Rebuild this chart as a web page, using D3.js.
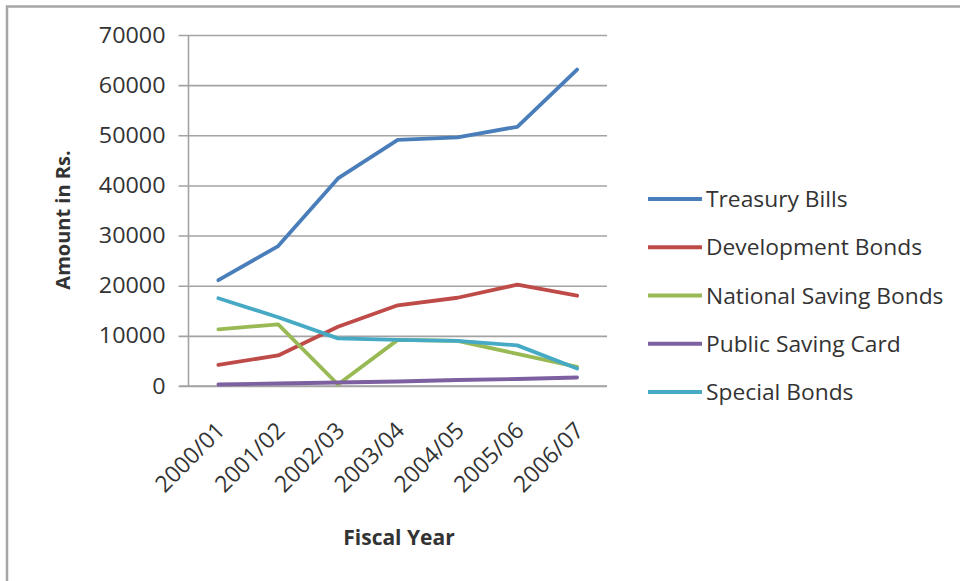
<!DOCTYPE html>
<html>
<head>
<meta charset="utf-8">
<script src="https://cdn.jsdelivr.net/npm/d3@7"></script>
<style>
  html, body { margin: 0; padding: 0; background: #ffffff; }
  svg { display: block; }
  text { font-family: "Open Sans", "Noto Sans", sans-serif; fill: #333333; }
</style>
</head>
<body>
<svg id="chart" width="960" height="581"></svg>
<script>
// Fiscal years on the category axis
const years = ["2000/01", "2001/02", "2002/03", "2003/04", "2004/05", "2005/06", "2006/07"];

// Outstanding amounts by instrument (Rs.)
const treasuryBills       = [21100, 27900, 41400, 49100, 49600, 51700, 63100];
const developmentBonds    = [4200, 6100, 11800, 16100, 17600, 20200, 18000];
const nationalSavingBonds = [11300, 12300, 300, 9200, 9000, 6400, 3800];
const publicSavingCard    = [300, 500, 700, 900, 1200, 1400, 1700];
const specialBonds        = [17500, 13700, 9500, 9200, 9000, 8100, 3500];

const seriesNames  = ["Treasury Bills", "Development Bonds", "National Saving Bonds", "Public Saving Card", "Special Bonds"];
const seriesValues = [treasuryBills, developmentBonds, nationalSavingBonds, publicSavingCard, specialBonds];
const seriesColors = ["#4a7ebb", "#be4b48", "#98b954", "#7d60a0", "#46aac5"];

const yTicks = [0, 10000, 20000, 30000, 40000, 50000, 60000, 70000];

const svg = d3.select("#chart");

// Widen a text run slightly to the lettering's proportions
function widen(sel, k) {
  sel.each(function () {
    const w = this.getComputedTextLength();
    d3.select(this)
      .attr("textLength", w * k)
      .attr("lengthAdjust", "spacingAndGlyphs");
  });
}

// Outer chart frame (left and top edges visible)
svg.append("path")
  .attr("d", "M7,581 V6.5 H960")
  .attr("fill", "none")
  .attr("stroke", "#a6a6a6")
  .attr("stroke-width", 2.5);

const plot = { left: 188.5, right: 607, top: 35, bottom: 386 };

const x = d3.scaleBand().domain(years).range([plot.left, plot.right]);
const y = d3.scaleLinear().domain([0, 70000]).range([plot.bottom, plot.top]);

// Horizontal gridlines with outside tick marks
const yAxis = d3.axisLeft(y)
  .tickValues(yTicks)
  .tickFormat(d3.format("d"))
  .tickSize(-(plot.right - plot.left))
  .tickPadding(23);

const gy = svg.append("g")
  .attr("transform", `translate(${plot.left},0)`)
  .call(yAxis);
gy.select(".domain").remove();
gy.selectAll(".tick line")
  .attr("x1", -10)
  .attr("stroke", "#a3a3a3")
  .attr("stroke-width", 1.6);
gy.selectAll(".tick text")
  .attr("font-size", 22)
  .attr("fill", "#333333")
  .style("font-family", "'Open Sans', sans-serif")
  .call(widen, 1.06);

// Vertical value axis line
svg.append("line")
  .attr("x1", plot.left).attr("x2", plot.left)
  .attr("y1", plot.top).attr("y2", plot.bottom)
  .attr("stroke", "#a3a3a3")
  .attr("stroke-width", 1.6);

// Category axis labels, rotated
const xAxis = d3.axisBottom(x).tickSize(0).tickPadding(0);
const gx = svg.append("g")
  .attr("transform", `translate(0,${plot.bottom})`)
  .call(xAxis);
gx.select(".domain")
  .attr("stroke", "#a3a3a3")
  .attr("stroke-width", 1.6)
  .attr("d", `M${plot.left - 9},0 H${plot.right}`);
gx.selectAll(".tick text")
  .attr("font-size", 23)
  .attr("fill", "#333333")
  .style("font-family", "'Open Sans', sans-serif")
  .attr("text-anchor", "end")
  .attr("dy", 0)
  .attr("y", 0)
  .attr("transform", "translate(8,46) rotate(-45)");

// Series lines
const line = d3.line()
  .x((d, i) => x(years[i]) + x.bandwidth() / 2)
  .y(d => y(d));

svg.append("g")
  .selectAll("path")
  .data(seriesValues)
  .join("path")
  .attr("d", d => line(d))
  .attr("fill", "none")
  .attr("stroke", (d, i) => seriesColors[i])
  .attr("stroke-width", 3.8)
  .attr("stroke-linejoin", "round")
  .attr("stroke-linecap", "round");

// Axis titles
svg.append("text")
  .attr("transform", "translate(70,220) rotate(-90)")
  .attr("text-anchor", "middle")
  .attr("font-size", 20)
  .attr("font-weight", 700)
  .text("Amount in Rs.");

svg.append("text")
  .attr("x", 399)
  .attr("y", 545)
  .attr("text-anchor", "middle")
  .attr("font-size", 21)
  .attr("font-weight", 700)
  .text("Fiscal Year");

// Legend
const legendY = d3.scalePoint().domain(seriesNames).range([199, 392]);
const legend = svg.append("g")
  .selectAll("g")
  .data(seriesNames)
  .join("g")
  .attr("transform", d => `translate(648,${legendY(d)})`);

legend.append("line")
  .attr("x1", 0).attr("x2", 54)
  .attr("stroke", (d, i) => seriesColors[i])
  .attr("stroke-width", 3.8);

legend.append("text")
  .attr("x", 58)
  .attr("y", 8)
  .attr("font-size", 21)
  .text(d => d)
  .call(widen, 1.085);
</script>
</body>
</html>
